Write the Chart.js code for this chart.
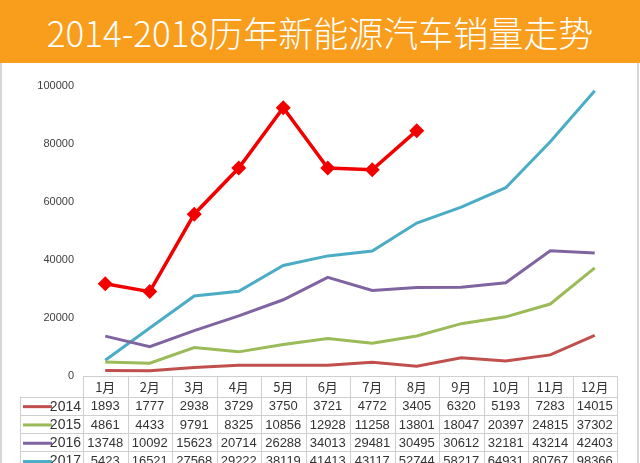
<!DOCTYPE html>
<html>
<head>
<meta charset="utf-8">
<script src="https://cdn.jsdelivr.net/npm/chart.js@4.4.1/dist/chart.umd.min.js"></script>
<style>
  html, body { margin: 0; padding: 0; background: #fff; width: 640px; height: 463px; overflow: hidden; }
  #title {
    height: 63px; background: #F99D1C; color: #fff; text-align: center;
    font: 300 35px "Noto Sans CJK SC", "Liberation Sans", sans-serif; line-height: 63px;
  }
  #panel { position: relative; width: 640px; height: 400px; overflow: hidden; }
  #panel canvas { position: absolute; left: 0; top: 0; }
  .edge { position: absolute; top: 0; width: 2px; height: 400px; background: #d6d6d6; }
</style>
</head>
<body>
<div id="title">2014-2018历年新能源汽车销量走势</div>
<div id="panel">
  <canvas id="chart" width="640" height="400"></canvas>
  <div class="edge" style="left:0"></div>
  <div class="edge" style="left:637px"></div>
</div>
<script>
// ====== DATA ======
const months = ["1月", "2月", "3月", "4月", "5月", "6月", "7月", "8月", "9月", "10月", "11月", "12月"];
const years = ["2014", "2015", "2016", "2017", "2018"];
const sales2014 = [1893, 1777, 2938, 3729, 3750, 3721, 4772, 3405, 6320, 5193, 7283, 14015];
const sales2015 = [4861, 4433, 9791, 8325, 10856, 12928, 11258, 13801, 18047, 20397, 24815, 37302];
const sales2016 = [13748, 10092, 15623, 20714, 26288, 34013, 29481, 30495, 30612, 32181, 43214, 42403];
const sales2017 = [5423, 16521, 27568, 29222, 38119, 41413, 43117, 52744, 58217, 64931, 80767, 98366];
// 2018 (only Jan-Aug)
const sales2018 = [31800, 29100, 55800, 71700, 92500, 71700, 71100, 84600, null, null, null, null];
const yTicks = [0, 20000, 40000, 60000, 80000, 100000];

const colors = ["#C0504D", "#9BBB59", "#8064A2", "#4BACC6", "#F20000"];
const allSales = [sales2014, sales2015, sales2016, sales2017, sales2018];

// ====== TABEL DATA DI BAWAH GRAFIK ======
const tablePlugin = {
  id: "dataTable",
  afterDraw(chart) {
    const { ctx, chartArea } = chart;
    const x = chart.scales.x;
    const colW = x.width / months.length;
    const top = chartArea.bottom;
    const left = x.left, right = x.right;
    const legendLeft = 20;
    const headH = 20.5, rowH = 18.3;
    const rows = years.length;
    const bottom = top + headH + rowH * rows;

    ctx.save();
    ctx.strokeStyle = "#cfcfcf";
    ctx.lineWidth = 1;
    ctx.beginPath();
    // header top
    ctx.moveTo(left, top + 0.5); ctx.lineTo(right, top + 0.5);
    // row lines
    for (let r = 0; r <= rows; r++) {
      const y = Math.round(top + headH + rowH * r) + 0.5;
      ctx.moveTo(legendLeft, y); ctx.lineTo(right, y);
    }
    // column lines
    for (let c = 0; c <= months.length; c++) {
      const xx = Math.round(left + colW * c) + 0.5;
      ctx.moveTo(xx, top); ctx.lineTo(xx, bottom);
    }
    ctx.moveTo(legendLeft + 0.5, top + headH); ctx.lineTo(legendLeft + 0.5, bottom);
    ctx.stroke();

    ctx.textBaseline = "middle";
    ctx.fillStyle = "#333";
    // header
    ctx.textAlign = "center";
    ctx.font = '13px "Noto Sans CJK SC", "Liberation Sans", sans-serif';
    months.forEach((m, i) => {
      ctx.fillText(m, x.getPixelForValue(i), top + headH / 2 + 1);
    });
    // rows
    allSales.forEach((vals, r) => {
      const cy = top + headH + rowH * r + rowH / 2 + 1;
      ctx.strokeStyle = colors[r];
      ctx.lineWidth = 3;
      ctx.beginPath();
      ctx.moveTo(legendLeft + 3, cy); ctx.lineTo(legendLeft + 32, cy);
      ctx.stroke();
      ctx.textAlign = "right";
      ctx.fillStyle = "#333";
      ctx.font = '14px "Liberation Sans", Arial, sans-serif';
      ctx.fillText(years[r], left - 2, cy);
      ctx.font = '13px "Liberation Sans", Arial, sans-serif';
      ctx.textAlign = "center";
      vals.forEach((v, i) => {
        if (v !== null) ctx.fillText(String(v), x.getPixelForValue(i), cy);
      });
    });
    ctx.restore();
  },
};

// ====== GRAFIK GARIS ======
const datasets = years.map((yr, i) => {
  const is2018 = yr === "2018";
  return {
    label: yr,
    data: allSales[i],
    borderColor: colors[i],
    backgroundColor: colors[i],
    borderWidth: is2018 ? 3.5 : 3,
    tension: 0,
    fill: false,
    pointRadius: is2018 ? 7.5 : 0,
    pointStyle: is2018 ? "rectRot" : "circle",
    pointBorderWidth: 0,
    spanGaps: false,
    order: is2018 ? 0 : 1,
  };
});

new Chart(document.getElementById("chart"), {
  type: "line",
  data: { labels: months, datasets },
  options: {
    responsive: false,
    animation: false,
    layout: { padding: { left: 0, right: 23, top: 23, bottom: 87 } },
    plugins: { legend: { display: false }, tooltip: { enabled: false } },
    scales: {
      x: { display: false, offset: true },
      y: {
        min: 0,
        max: 100000,
        afterBuildTicks: (scale) => { scale.ticks = yTicks.map((v) => ({ value: v })); },
        afterFit: (scale) => { scale.width = 83; },
        grid: { display: false, drawTicks: false },
        border: { display: false },
        ticks: {
          color: "#404040",
          padding: 9,
          font: { family: '"Liberation Sans", Arial, sans-serif', size: 11 },
          callback: (v) => String(v),
        },
      },
    },
  },
  plugins: [tablePlugin],
});
</script>
</body>
</html>
